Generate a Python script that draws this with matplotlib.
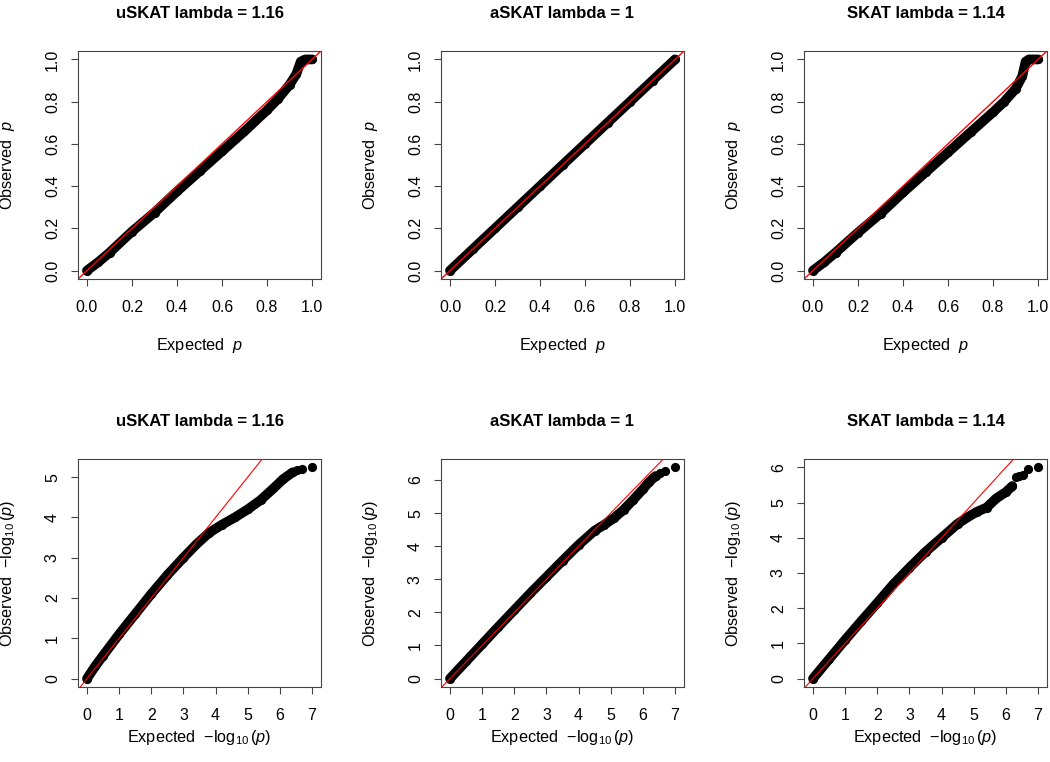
import matplotlib
matplotlib.use("Agg")
import matplotlib.pyplot as plt
import numpy as np

plt.rcParams["font.family"] = ["Liberation Sans", "DejaVu Sans"]
plt.rcParams["mathtext.fontset"] = "custom"
plt.rcParams["mathtext.rm"] = "Liberation Sans"
plt.rcParams["mathtext.it"] = "Liberation Sans:italic"

# --- values (expected, observed) ---
titles = ["uSKAT lambda = 1.16", "aSKAT lambda = 1", "SKAT lambda = 1.14"]

# uniform scale QQ
u_exp_uskat = [0, 0.05, 0.1, 0.2, 0.3, 0.4, 0.5, 0.6, 0.7, 0.8, 0.85, 0.9, 0.93, 0.95, 0.97, 1.0]
u_obs_uskat = [0, 0.04, 0.085, 0.185, 0.275, 0.375, 0.47, 0.565, 0.66, 0.76, 0.815, 0.88, 0.93, 0.99, 1.0, 1.0]

u_exp_askat = [0, 0.1, 0.2, 0.3, 0.4, 0.5, 0.6, 0.7, 0.8, 0.9, 1.0]
u_obs_askat = [0, 0.1, 0.2, 0.3, 0.4, 0.5, 0.6, 0.7, 0.8, 0.9, 1.0]

u_exp_skat = [0, 0.05, 0.1, 0.2, 0.3, 0.4, 0.5, 0.6, 0.7, 0.8, 0.85, 0.9, 0.93, 0.945, 0.96, 1.0]
u_obs_skat = [0, 0.04, 0.085, 0.18, 0.27, 0.37, 0.465, 0.56, 0.655, 0.75, 0.80, 0.86, 0.92, 0.99, 1.0, 1.0]

# -log10 scale QQ
l_exp_uskat = [0, 0.25, 0.5, 1.0, 1.5, 2.0, 2.5, 3.0, 3.4, 3.8, 4.2, 4.6, 5.0, 5.4, 5.8, 6.1, 6.4, 6.52, 6.70, 7.0]
l_obs_uskat = [0, 0.3, 0.57, 1.1, 1.6, 2.1, 2.57, 3.0, 3.33, 3.62, 3.82, 4.0, 4.2, 4.43, 4.72, 4.95, 5.12, 5.17, 5.2, 5.24]

l_exp_askat = [0, 0.5, 1.0, 1.5, 2.0, 2.5, 3.0, 3.5, 4.0, 4.5, 4.8, 5.1, 5.4, 5.7, 6.0, 6.2, 6.4, 6.52, 6.70, 7.0]
l_obs_askat = [0, 0.52, 1.04, 1.56, 2.07, 2.58, 3.07, 3.56, 4.04, 4.47, 4.65, 4.85, 5.1, 5.4, 5.72, 5.95, 6.12, 6.22, 6.27, 6.38]

l_exp_skat = [0, 0.5, 1.0, 1.5, 2.0, 2.5, 3.0, 3.5, 4.0, 4.5, 4.8, 5.1, 5.4, 5.7, 6.0, 6.2, 6.3, 6.4, 6.52, 6.70, 7.0]
l_obs_skat = [0, 0.55, 1.1, 1.63, 2.15, 2.68, 3.15, 3.6, 4.0, 4.4, 4.58, 4.74, 4.86, 5.12, 5.3, 5.47, 5.73, 5.75, 5.78, 5.95, 6.0]

top_data = [(u_exp_uskat, u_obs_uskat), (u_exp_askat, u_obs_askat), (u_exp_skat, u_obs_skat)]
bottom_data = [(l_exp_uskat, l_obs_uskat), (l_exp_askat, l_obs_askat), (l_exp_skat, l_obs_skat)]
tail_cut = [6.45, 6.45, 6.25]  # beyond this the points are drawn as single dots

W, H = 1050, 762
col_left = [78, 441, 804]
row_top = [51, 459]
ax_w, ax_h = 243, 228
BAND_LW = 7
DOT_MS = 5.6
SPINE = "#444444"
TICK_FS = 11.5
LABEL_FS = 11.7
TITLE_FS = 12


def make_axes(col, row):
    l = col_left[col] / W
    b = 1 - (row_top[row] + ax_h) / H
    return fig.add_axes([l, b, ax_w / W, ax_h / H])


def style(ax):
    for s in ax.spines.values():
        s.set_color(SPINE)
        s.set_linewidth(0.8)
    ax.tick_params(direction="out", length=5, width=0.8, color=SPINE,
                   labelsize=TICK_FS, labelcolor="black")
    ax.tick_params(axis="x", pad=10)
    ax.tick_params(axis="y", pad=8)
    for lab in ax.get_yticklabels():
        lab.set_rotation(90)
        lab.set_va("center")


def rlim(lo, hi):
    d = (hi - lo) * 0.04
    return lo - d, hi + d


fig = plt.figure(figsize=(W / 100, H / 100), dpi=100)

for i in range(3):
    # uniform scale
    ax = make_axes(i, 0)
    x, y = top_data[i]
    ax.plot(x, y, color="black", lw=BAND_LW, solid_capstyle="round", solid_joinstyle="round")
    ax.plot(x, y, "o", color="black", ms=DOT_MS)
    ax.axline((0, 0), slope=1, color="red", lw=1.0)
    ax.set_xlim(*rlim(0, 1))
    ax.set_ylim(*rlim(0, 1))
    ax.set_xticks(np.arange(0, 1.01, 0.2))
    ax.set_yticks(np.arange(0, 1.01, 0.2))
    ax.set_xticklabels(["%.1f" % v for v in np.arange(0, 1.01, 0.2)])
    ax.set_yticklabels(["%.1f" % v for v in np.arange(0, 1.01, 0.2)])
    style(ax)
    ax.set_title(titles[i], fontsize=TITLE_FS, fontweight="bold", pad=24)
    ax.set_xlabel(r"Expected  $p$", fontsize=LABEL_FS)
    ax.set_ylabel(r"Observed  $p$", fontsize=LABEL_FS)
    ax.xaxis.set_label_coords(0.5, -0.29)
    ax.xaxis.label.set_va("center")
    ax.yaxis.set_label_coords(-0.29, 0.5)
    ax.yaxis.label.set_va("center")

    # -log10 scale
    ax = make_axes(i, 1)
    x, y = np.array(bottom_data[i][0]), np.array(bottom_data[i][1])
    dense = x <= tail_cut[i]
    ax.plot(x[dense], y[dense], color="black", lw=BAND_LW, solid_capstyle="round", solid_joinstyle="round")
    ax.plot(x, y, "o", color="black", ms=DOT_MS)
    ax.axline((0, 0), slope=1, color="red", lw=0.8)
    ax.set_xlim(*rlim(0, x.max()))
    ax.set_ylim(*rlim(0, y.max()))
    ax.set_xticks(range(0, 8))
    ax.set_yticks(range(0, int(y.max()) + 1))
    style(ax)
    ax.set_title(titles[i], fontsize=TITLE_FS, fontweight="bold", pad=24)
    ax.set_xlabel(r"Expected  $-\log_{10}(p)$", fontsize=LABEL_FS)
    ax.set_ylabel(r"Observed  $-\log_{10}(p)$", fontsize=LABEL_FS)
    ax.xaxis.set_label_coords(0.5, -0.22)
    ax.xaxis.label.set_va("center")
    ax.yaxis.set_label_coords(-0.29, 0.5)
    ax.yaxis.label.set_va("center")

fig.savefig("out.png", dpi=100)
